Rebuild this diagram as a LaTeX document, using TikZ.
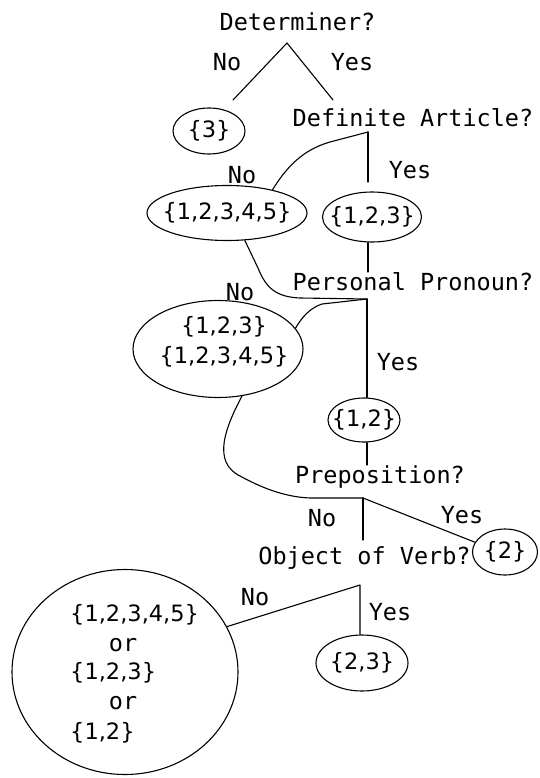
\documentclass[tikz,border=0pt]{standalone}
\usepackage{fontspec}
\setmainfont{DejaVu Sans Mono}
\newfontfamily\setfont{DejaVu Sans}
\usetikzlibrary{shapes.geometric}
\newcommand\zwbox[1]{\makebox[0pt]{#1}}
\begin{document}
\begin{tikzpicture}[x=1pt,y=-1pt,
  every node/.style={font=\fontsize{23.5}{30}\selectfont, inner sep=0pt},
  st/.style={font=\setfont\fontsize{22.5}{30}\selectfont},
  ell/.style={draw, ellipse, line width=1.1pt, st},
  ln/.style={line width=1.1pt, line join=round, line cap=round}]
\useasboundingbox (0,0) rectangle (539,778);
% texts
\node (det) at (297.5,22) {Determiner?};
\node (no1) at (227,62) {No};
\node (yes1) at (352,62) {Yes};
\node[ell, minimum width=72, minimum height=46] (three) at (209,131) {\zwbox{\{3\}}};
\node (defart) at (413,118) {Definite Article?};
\node (no2) at (242,175) {No};
\node (yes2) at (410,170) {Yes};
\node[ell, minimum width=160, minimum height=55] (e12345) at (227,213) {\zwbox{\{1,2,3,4,5\}}};
\node[ell, minimum width=99, minimum height=50] (e123) at (372,217) {\zwbox{\{1,2,3\}}};
\node (pp) at (413,282) {Personal Pronoun?};
\node (no3) at (240,292) {No};
\node[ell, minimum width=170, minimum height=97] (ebig) at (218,349) {};
\node[st, align=center] (ebigtxt) at (224,342) {\{1,2,3\}\\\{1,2,3,4,5\}};
\node (yes3) at (398,362) {Yes};
\node[ell, minimum width=72, minimum height=44] (e12) at (364,420) {\zwbox{\{1,2\}}};
\node (prep) at (380,477) {Preposition?};
\node (no4) at (322,518) {No};
\node (yes4) at (462,515) {Yes};
\node[ell, minimum width=65, minimum height=46] (e2) at (505,552) {\zwbox{\{2\}}};
\node (ov) at (364.5,558) {Object of Verb?};
\node (no5) at (255,597) {No};
\node (yes5) at (390,612) {Yes};
\node[ell, minimum width=92, minimum height=56] (e23) at (362,663) {\zwbox{\{2,3\}}};
\node[ell, minimum width=226, minimum height=205] (circ) at (125,672) {};
\node[st, anchor=west] (c1) at (70,615) {\{1,2,3,4,5\}};
\node (c2) at (123,645) {or};
\node[st, anchor=west] (c3) at (70,673) {\{1,2,3\}};
\node (c4) at (123,703) {or};
\node[st, anchor=west] (c5) at (70,733) {\{1,2\}};
% coordinates
\coordinate (a1) at (287,43);
\coordinate (a1l) at (233,100);
\coordinate (a1r) at (333,100);
\coordinate (a2) at (368,132);
\coordinate (a2b) at (368,182);
\coordinate (a2d) at (368,247);
\coordinate (a2e) at (368,272);
\coordinate (a3) at (367,299);
\coordinate (a4u) at (367,452);
\coordinate (a4e) at (367,465);
\coordinate (a4) at (363,498);
\coordinate (a4d) at (363,540);
\coordinate (a5) at (360,585);
% connectors
\draw[ln] (a1l) -- (a1) -- (a1r);
\draw[ln] (a2) -- (a2b);
\draw[ln] (a2) -- (330,142) .. controls (302,150) and (286,168) .. (e12345.27);
\draw[ln] (e123.south -| a2d) -- (a2e);
\draw[ln] (e12345.-57) -- (258,268) .. controls (266,288) and (276,297) .. (300,298) -- (a3);
\draw[ln] (a3) -- (322,304) .. controls (310,308) and (302,317) .. (ebig.15);
\draw[ln] (a3) -- (e12.north -| a3);
\draw[ln] (e12.south -| a4u) -- (a4e);
\draw[ln] (ebig.-63) .. controls (225,428) and (212,462) .. (240,476) .. controls (262,488) and (285,497) .. (310,498) -- (a4);
\draw[ln] (a4) -- (a4d);
\draw[ln] (a4) -- (e2.162);
\draw[ln] (circ.24) -- (a5) -- (e23.north -| a5);
\end{tikzpicture}
\end{document}
